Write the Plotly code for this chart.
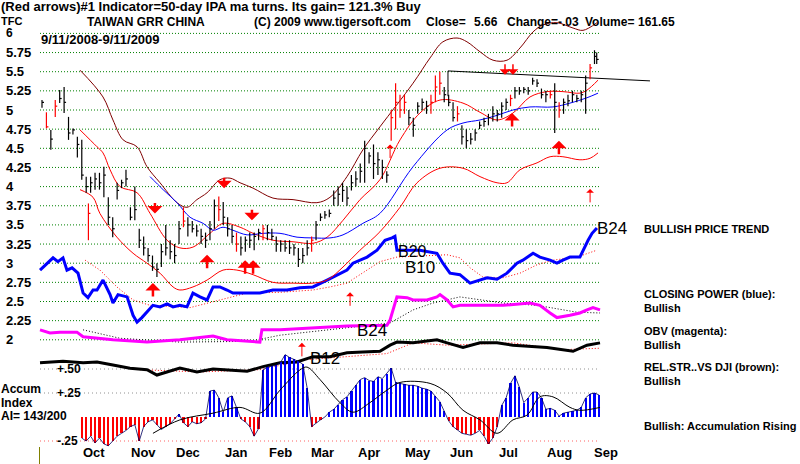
import plotly.graph_objects as go

# ---------------- data ----------------
# price bars (trading-day index, high, low, close)
bar_idx = [0, 2, 4, 6, 8, 10, 12, 14, 16, 18, 20, 21, 22, 24, 26, 28, 30, 32, 34, 36, 38, 40, 42, 44, 46, 48, 50,
           52, 54, 56, 58, 60, 62, 64, 66, 68, 70, 72, 74, 76, 78, 80, 82, 84, 86, 88, 90, 92, 94, 96, 98, 100,
           102, 104, 106, 108, 110, 112, 114, 116, 118, 120, 122, 124, 126, 128, 130, 132, 134, 136, 138, 140,
           142, 144, 146, 148, 150, 152, 154, 156, 158, 160, 162, 164, 166, 168, 170, 172, 174, 176, 178, 180,
           182, 184, 186, 188, 190, 192, 194, 196, 198, 200, 202, 204, 206, 208, 210, 212, 214, 216, 218, 220,
           222, 224, 226, 228, 230, 232, 234, 236, 238, 240, 242, 244, 246, 248, 250, 251]
bar_high = [5.13, 4.97, 4.74, 5.13, 5.26, 5.30, 4.91, 4.76, 4.65, 4.61, 4.13, 3.78, 4.13, 4.18, 4.18, 4.26, 3.86,
            3.60, 4.05, 4.09, 4.22, 3.73, 4.00, 3.45, 3.35, 3.20, 3.10, 3.00, 3.25, 3.50, 3.30, 3.25, 3.55, 3.73,
            3.60, 3.55, 3.50, 3.45, 3.40, 3.55, 3.83, 3.87, 3.80, 3.60, 3.50, 3.40, 3.35, 3.35, 3.40, 3.40, 3.45,
            3.50, 3.50, 3.45, 3.35, 3.30, 3.30, 3.30, 3.25, 3.20, 3.20, 3.30, 3.35, 3.55, 3.65, 3.68, 3.70, 3.95,
            4.00, 4.05, 4.00, 4.15, 4.20, 4.30, 4.60, 4.45, 4.55, 4.45, 4.35, 4.20, 5.00, 5.35, 5.20, 5.20, 5.00,
            4.90, 5.10, 5.15, 5.12, 5.20, 5.45, 5.50, 5.30, 5.20, 5.10, 5.05, 4.80, 4.75, 4.70, 4.75, 4.85, 4.90,
            4.95, 5.05, 5.00, 5.10, 5.15, 5.20, 5.30, 5.30, 5.30, 5.30, 5.42, 5.40, 5.28, 5.25, 5.25, 5.35, 5.10,
            5.15, 5.20, 5.25, 5.20, 5.25, 5.45, 5.60, 5.78, 5.75]
bar_low = [5.03, 4.76, 4.48, 4.91, 5.09, 4.96, 4.61, 4.68, 4.38, 4.09, 3.92, 3.30, 3.92, 3.96, 3.96, 3.86, 3.50,
           3.34, 3.83, 3.98, 4.00, 3.56, 3.56, 3.20, 3.10, 3.02, 2.90, 2.82, 2.95, 3.10, 3.05, 3.00, 3.25, 3.47,
           3.35, 3.40, 3.35, 3.25, 3.20, 3.30, 3.45, 3.55, 3.50, 3.35, 3.26, 3.15, 3.10, 3.15, 3.20, 3.17, 3.30,
           3.30, 3.30, 3.30, 3.15, 3.15, 3.15, 3.12, 3.10, 2.95, 3.00, 3.10, 3.15, 3.30, 3.55, 3.58, 3.60, 3.75,
           3.75, 3.80, 3.75, 3.95, 4.00, 4.05, 4.05, 4.30, 4.10, 4.15, 4.10, 4.05, 4.60, 4.75, 4.90, 4.95, 4.80,
           4.65, 4.95, 5.00, 4.95, 4.95, 5.10, 5.20, 5.10, 5.05, 4.85, 4.85, 4.55, 4.50, 4.55, 4.60, 4.75, 4.78,
           4.80, 4.85, 4.85, 4.90, 5.00, 5.05, 5.15, 5.20, 5.22, 5.20, 5.33, 5.30, 5.15, 5.10, 5.15, 4.70, 4.90,
           4.95, 5.05, 5.10, 5.10, 5.10, 4.95, 5.40, 5.60, 5.60]
bar_close = [5.10, 4.78, 4.62, 5.05, 5.15, 5.10, 4.70, 4.74, 4.55, 4.15, 4.00, 3.65, 4.05, 4.10, 4.05, 4.15, 3.60,
             3.45, 3.95, 4.05, 4.10, 3.60, 3.70, 3.30, 3.20, 3.10, 2.95, 2.92, 3.15, 3.20, 3.15, 3.10, 3.45, 3.55,
             3.50, 3.45, 3.42, 3.35, 3.30, 3.45, 3.75, 3.70, 3.60, 3.45, 3.35, 3.25, 3.20, 3.30, 3.30, 3.35, 3.40,
             3.45, 3.40, 3.35, 3.25, 3.25, 3.20, 3.20, 3.20, 3.05, 3.10, 3.20, 3.30, 3.50, 3.60, 3.63, 3.65, 3.85,
             3.90, 3.95, 3.85, 4.05, 4.10, 4.20, 4.50, 4.40, 4.30, 4.35, 4.25, 4.15, 4.90, 5.10, 5.00, 5.10, 4.90,
             4.80, 5.05, 5.10, 5.05, 5.10, 5.30, 5.35, 5.20, 5.10, 4.90, 4.95, 4.65, 4.60, 4.62, 4.70, 4.80, 4.85,
             4.90, 4.95, 4.95, 5.05, 5.10, 5.15, 5.25, 5.25, 5.27, 5.25, 5.38, 5.35, 5.20, 5.20, 5.20, 5.10, 5.00,
             5.10, 5.12, 5.20, 5.15, 5.20, 5.35, 5.55, 5.70, 5.66]
red_bar_idx = [2, 6, 21, 64, 80, 88, 100, 122, 158, 160, 162, 164, 176, 178, 180, 188, 212, 230, 234, 248]

# bands
upper_idx = [17.2, 27.6, 32.1, 36.7, 43.0, 47.5, 53.4, 61.1, 65.6, 70.1, 74.7, 80.5, 85.1, 89.6, 95.5, 104.5,
             113.6, 124.4, 130.3, 138.0, 145.2, 152.9, 167.9, 175.6, 181.4, 187.8, 192.3, 198.2, 204.1, 210.4,
             216.3, 222.2, 226.7, 233.0, 240.3, 244.8, 251.1]
upper_val = [5.52, 5.17, 4.87, 4.61, 4.52, 4.26, 4.05, 3.79, 3.73, 3.83, 3.92, 4.09, 4.11, 4.05, 3.98, 3.85,
             3.83, 3.79, 3.86, 4.13, 4.48, 4.78, 5.35, 5.68, 5.89, 5.94, 5.89, 5.76, 5.65, 5.65, 5.81, 6.02,
             6.11, 6.14, 6.07, 6.04, 6.14]
mid_idx = [17.2, 24.9, 27.6, 30.8, 35.3, 43.0, 48.9, 56.6, 62.4, 68.3, 76.0, 81.9, 89.6, 95.5, 104.5, 113.6,
           122.6, 129.0, 136.2, 143.9, 152.9, 162.0, 171.0, 180.1, 190.5, 198.2, 205.9, 213.1, 220.8, 228.5,
           235.7, 243.4, 246.6, 251.6]
mid_val = [4.74, 4.52, 4.44, 4.22, 4.00, 3.92, 3.65, 3.30, 3.20, 3.21, 3.39, 3.52, 3.47, 3.39, 3.30, 3.28,
           3.26, 3.34, 3.56, 3.83, 4.09, 4.61, 4.96, 5.13, 5.09, 4.97, 4.87, 4.96, 5.17, 5.24, 5.24, 5.22,
           5.26, 5.39]
ma_idx = [48.9, 54.8, 61.1, 67.0, 72.9, 77.4, 81.9, 86.4, 92.8, 100.0, 107.7, 115.4, 122.6, 130.3, 136.2,
          145.2, 152.9, 167.9, 183.3, 190.5, 198.2, 205.9, 213.1, 220.8, 231.2, 238.9, 246.6, 251.6]
ma_val = [4.13, 3.96, 3.79, 3.60, 3.52, 3.43, 3.47, 3.43, 3.37, 3.39, 3.39, 3.34, 3.33, 3.33, 3.37,
          3.52, 3.65, 4.26, 4.74, 4.83, 4.87, 4.93, 5.00, 5.04, 5.04, 5.09, 5.16, 5.22]
lower_idx = [17.2, 23.1, 26.2, 33.9, 41.2, 47.5, 53.4, 59.3, 62.4, 68.3, 74.7, 81.9, 88.2, 95.5, 104.5, 113.6,
             122.6, 129.0, 136.2, 143.9, 152.9, 162.0, 169.7, 180.1, 190.5, 198.2, 205.9, 210.4, 216.3, 224.0,
             229.9, 235.7, 243.4, 248.0, 251.6]
lower_val = [3.96, 3.86, 3.65, 3.34, 3.13, 3.00, 2.87, 2.69, 2.65, 2.69, 2.78, 2.91, 2.91, 2.85, 2.75, 2.74,
             2.74, 2.78, 2.95, 3.17, 3.41, 3.73, 4.05, 4.24, 4.24, 4.13, 4.05, 4.05, 4.22, 4.31, 4.39, 4.39,
             4.35, 4.37, 4.44]
resist_idx = [183.7, 183.7, 275.1]
resist_val = [5.18, 5.51, 5.38]

# closing power (blue) and its trend (red dotted)
cp_idx = [-0.9, 5.0, 7.2, 9.5, 11.3, 13.6, 16.3, 18.6, 20.8, 23.1, 24.9, 27.6, 30.8, 32.1, 34.4, 38.5, 41.2,
          43.0, 45.2, 47.5, 50.2, 53.4, 56.6, 59.3, 62.4, 65.6, 68.3, 71.5, 74.7, 77.4, 80.5, 83.7, 86.4, 92.8,
          98.6, 104.5, 110.9, 116.7, 122.6, 129.0, 133.5, 138.0, 140.7, 147.1, 151.6, 155.2, 158.4, 159.7,
          160.6, 171.0, 178.7, 181.4, 184.6, 189.1, 193.7, 201.4, 205.9, 210.4, 214.9, 217.6, 222.2, 225.3,
          229.9, 233.0, 235.7, 238.9, 243.4, 244.8, 247.1, 248.9, 251.1]
cp_val = [2.91, 3.07, 3.02, 3.07, 2.91, 2.94, 2.87, 2.61, 2.55, 2.65, 2.65, 2.78, 2.59, 2.48, 2.59, 2.56, 2.32,
          2.23, 2.29, 2.36, 2.45, 2.43, 2.47, 2.43, 2.45, 2.43, 2.61, 2.56, 2.52, 2.69, 2.69, 2.65, 2.61, 2.61,
          2.61, 2.65, 2.65, 2.68, 2.69, 2.78, 2.85, 2.91, 3.00, 3.08, 3.17, 3.30, 3.33, 3.35,
          3.17, 3.17, 3.13, 3.00, 2.87, 2.85, 2.74, 2.81, 2.79, 2.87, 3.00, 3.04, 3.13, 3.08,
          3.04, 3.00, 3.04, 3.08, 3.08, 3.17, 3.30, 3.39, 3.46]
cp_ma_idx = [19.5, 26.2, 33.9, 41.2, 48.9, 67.0, 80.5, 92.8, 107.7, 122.6, 130.3, 138.0, 152.9, 160.6, 183.3,
             189.1, 193.7, 199.5, 208.6, 216.3, 224.0, 231.2, 242.1, 251.1]
cp_ma_val = [3.04, 2.91, 2.69, 2.52, 2.45, 2.42, 2.52, 2.61, 2.62, 2.65, 2.69, 2.74, 3.02, 3.08, 3.11,
             3.07, 2.94, 2.82, 2.81, 2.87, 2.98, 3.04, 3.08, 3.17]

# OBV (magenta) and its trend (black dotted)
obv_idx = [-0.9, 3.6, 8.1, 15.8, 18.6, 32.1, 47.5, 62.4, 77.4, 83.7, 98.6, 99.5, 107.7, 122.6, 138.0, 156.1,
           157.5, 160.6, 165.2, 167.9, 174.2, 178.7, 180.1, 183.3, 186.0, 189.1, 193.7, 208.6, 220.8, 225.3,
           229.9, 233.0, 238.9, 243.4, 246.6, 249.3, 252.5]
obv_val = [2.13, 2.09, 2.10, 2.10, 2.04, 2.00, 1.97, 2.00, 2.05, 2.00, 1.97, 2.13, 2.13, 2.15, 2.18, 2.19,
           2.26, 2.56, 2.55, 2.52, 2.52, 2.56, 2.59, 2.52, 2.43, 2.45, 2.45, 2.45, 2.48, 2.45,
           2.35, 2.29, 2.32, 2.35, 2.39, 2.42, 2.39]
obv_ma_idx = [18.6, 35.3, 62.4, 94.1, 107.7, 157.5, 167.9, 176.9, 189.1, 208.6, 224.0, 233.0, 242.1, 252.5]
obv_ma_val = [2.13, 2.02, 1.97, 1.98, 2.06, 2.22, 2.39, 2.48, 2.56, 2.48, 2.45, 2.41, 2.36, 2.35]

# relative strength vs DJI (black) and its trend (red dotted)
rs_idx = [-0.9, 5.0, 9.5, 18.6, 24.9, 32.1, 39.8, 47.5, 52.0, 62.4, 70.1, 77.4, 92.8, 100.0, 107.7, 115.4,
          122.6, 130.3, 138.0, 145.2, 152.9, 157.5, 160.6, 167.9, 178.7, 183.3, 190.5, 198.2, 205.9, 213.1,
          228.5, 240.3, 246.6, 252.5]
rs_val = [1.70, 1.71, 1.72, 1.70, 1.71, 1.67, 1.63, 1.61, 1.54, 1.63, 1.58, 1.62, 1.59, 1.65, 1.70, 1.71,
          1.78, 1.78, 1.83, 1.84, 1.85, 1.93, 1.97, 1.96, 2.00, 1.96, 1.90, 1.96, 1.96, 1.93,
          1.90, 1.85, 1.93, 1.96]
rs_ma_idx = [44.3, 71.5, 98.6, 119.5, 156.1, 167.9, 183.3, 213.1, 234.4, 252.5]
rs_ma_val = [1.61, 1.58, 1.61, 1.74, 1.82, 1.96, 1.93, 1.96, 1.87, 1.89]

# accumulation index
acc_idx = list(range(18, 254, 2))
acc_val = [-0.22, -0.25, -0.20, -0.27, -0.22, -0.28, -0.30, -0.25, -0.20, -0.17, -0.14, -0.10, -0.08, -0.25,
           -0.10, -0.05, -0.03, -0.08, -0.13, -0.10, -0.07, -0.02, 0.03, -0.06, -0.10, -0.05, -0.07, -0.06,
           -0.02, 0.27, 0.28, 0.20, 0.05, 0.20, 0.22, 0.10, -0.02, -0.05, -0.10, -0.20, -0.12, 0.49, 0.52,
           0.53, 0.54, 0.57, 0.65, 0.62, 0.60, 0.58, 0.55, 0.30, -0.10, -0.06, -0.03, 0.00, 0.05, 0.08, 0.13,
           0.18, 0.21, 0.27, 0.33, 0.39, 0.41, 0.38, 0.37, 0.42, 0.40, 0.45, 0.51, 0.36, 0.35, 0.34, 0.33,
           0.33, 0.32, 0.30, 0.29, 0.27, 0.22, 0.16, 0.06, -0.04, -0.10, -0.14, -0.17, -0.18, -0.19, -0.17,
           -0.14, -0.20, -0.28, -0.22, -0.10, 0.12, 0.20, 0.35, 0.43, 0.31, 0.15, 0.20, 0.26, 0.26, 0.20,
           0.08, 0.09, 0.07, 0.01, 0.04, 0.05, 0.06, 0.07, 0.10, 0.20, 0.24, 0.25, 0.23]
acc_ma_idx = [50.2, 62.4, 77.4, 89.6, 98.6, 107.7, 116.7, 119.9, 125.8, 134.8, 140.7, 148.4, 156.1, 162.0,
              175.6, 183.3, 190.5, 198.2, 205.9, 213.1, 219.5, 225.3, 231.2, 238.9, 243.4, 252.5]
acc_ma_val = [-0.17, -0.03, 0.04, 0.10, 0.04, 0.28, 0.49, 0.52, 0.39, 0.15, 0.05, 0.15, 0.28, 0.36,
              0.35, 0.25, 0.07, -0.03, -0.17, -0.03, 0.02, 0.21, 0.21, 0.10, 0.07, 0.10]

# signal arrows (index, head price, thick?)
up_idx = [50.2, 74.7, 91.9, 95.5, 117.6, 139.4, 157.5, 212.7, 233.9, 248.0]
up_val = [2.74, 3.11, 3.04, 3.04, 1.96, 2.62, 4.55, 4.96, 4.60, 3.97]
up_thick = [1, 1, 1, 1, 0, 0, 0, 1, 1, 0]
dn_idx = [51.1, 82.4, 95.0, 209.5, 213.1]
dn_val = [3.65, 3.98, 3.56, 5.46, 5.46]
dn_thick = [1, 1, 1, 0, 0]

# axis labels
price_ticks = [6, 5.75, 5.5, 5.25, 5, 4.75, 4.5, 4.25, 4, 3.75, 3.5, 3.25, 3, 2.75, 2.5, 2.25, 2]
price_tick_text = ["6", "5.75", "5.5", "5.25", "5", "4.75", "4.5", "4.25", "4", "3.75", "3.5", "3.25",
                   "3", "2.75", "2.5", "2.25", "2"]
acc_ticks = [0.5, 0.25, -0.25]
acc_tick_text = ["+.50", "+.25", "-.25"]
month_names = ["Oct", "Nov", "Dec", "Jan", "Feb", "Mar", "Apr", "May", "Jun", "Jul", "Aug", "Sep"]
month_pos = [23.5, 45.7, 66, 87.8, 108, 127, 148, 170, 189.6, 210.9, 234, 255]

# ---------------- layout geometry ----------------
W, H = 800, 464
X0_PX, PX_DAY = 42.0, 2.21            # pixel of day 0, pixels per trading day
PY6, PX_UNIT = 33.4, 76.6             # pixel of price 6, pixels per price unit
ACC0, ACC_UNIT = 417.0, 96.0          # pixel of accum 0, pixels per unit
xr = [-X0_PX / PX_DAY, (W - X0_PX) / PX_DAY]
yr = [6 - (H - PY6) / PX_UNIT, 6 + PY6 / PX_UNIT]
y2r = [-(H - ACC0) / ACC_UNIT, ACC0 / ACC_UNIT]
GX0, GX1 = -0.9, 252.5                # grid extent (days)

FONT = "Liberation Sans, Arial, sans-serif"


def px(xp):
    return xp / W


def py(yp):
    return 1 - yp / H


fig = go.Figure()

# accumulation bars
fig.add_trace(go.Bar(x=acc_idx, y=acc_val, yaxis="y2", width=1.0,
                     marker=dict(color=["#0000ff" if v >= 0 else "#ff0000" for v in acc_val], line=dict(width=0)),
                     hoverinfo="skip"))
fig.add_trace(go.Scatter(x=acc_idx, y=acc_val, yaxis="y2", mode="lines",
                         line=dict(color="#000060", width=0.8), hoverinfo="skip"))
fig.add_trace(go.Scatter(x=acc_ma_idx, y=acc_ma_val, yaxis="y2", mode="lines",
                         line=dict(color="#000000", width=1, shape="spline"), hoverinfo="skip"))

# indicator lines
fig.add_trace(go.Scatter(x=rs_ma_idx, y=rs_ma_val, mode="lines", line=dict(color="#ff0000", width=1, dash="1px,2px")))
fig.add_trace(go.Scatter(x=rs_idx, y=rs_val, mode="lines", line=dict(color="#000000", width=3)))
fig.add_trace(go.Scatter(x=obv_ma_idx, y=obv_ma_val, mode="lines", line=dict(color="#000000", width=1, dash="1px,2px")))
fig.add_trace(go.Scatter(x=obv_idx, y=obv_val, mode="lines", line=dict(color="#ff00ff", width=3)))
fig.add_trace(go.Scatter(x=cp_ma_idx, y=cp_ma_val, mode="lines", line=dict(color="#ff0000", width=1, dash="1px,2px")))
fig.add_trace(go.Scatter(x=cp_idx, y=cp_val, mode="lines", line=dict(color="#0000ff", width=3)))

# bands
fig.add_trace(go.Scatter(x=upper_idx, y=upper_val, mode="lines", line=dict(color="#800000", width=1, shape="spline")))
fig.add_trace(go.Scatter(x=mid_idx, y=mid_val, mode="lines", line=dict(color="#ff0000", width=1, shape="spline")))
fig.add_trace(go.Scatter(x=lower_idx, y=lower_val, mode="lines", line=dict(color="#ff0000", width=1, shape="spline")))
fig.add_trace(go.Scatter(x=ma_idx, y=ma_val, mode="lines", line=dict(color="#0000ff", width=1, shape="spline")))
fig.add_trace(go.Scatter(x=resist_idx, y=resist_val, mode="lines", line=dict(color="#000000", width=1)))

# price bars (high-low stroke + close tick to the right)
for want_red in (False, True):
    xs, ys = [], []
    for i, hi, lo, cl in zip(bar_idx, bar_high, bar_low, bar_close):
        if (i in red_bar_idx) != want_red:
            continue
        xs += [i, i, None, i, i + 0.9, None]
        ys += [lo, hi, None, cl, cl, None]
    fig.add_trace(go.Scatter(x=xs, y=ys, mode="lines", connectgaps=False,
                             line=dict(color="#ff0000" if want_red else "#000000", width=1.2)))

shapes = []
for v in price_ticks:
    shapes.append(dict(type="line", xref="x", yref="y", x0=GX0, x1=GX1, y0=v, y1=v, layer="below",
                       line=dict(color="#008000", width=1, dash="1px,2px")))
for v in acc_ticks:
    shapes.append(dict(type="line", xref="x", yref="y2", x0=GX0, x1=GX1, y0=v, y1=v, layer="below",
                       line=dict(color="#ff6060" if v < 0 else "#909090", width=1, dash="1px,3px")))
shapes.append(dict(type="line", xref="paper", yref="paper", x0=px(39.5), x1=px(39.5), y0=py(447), y1=py(464),
                   line=dict(color="#808000", width=1)))

ann = []


def text(t, xp, yp, size=11, bold=True, anchor="left"):
    ann.append(dict(text=("<b>%s</b>" % t) if bold else t, x=px(xp), y=py(yp), xref="paper", yref="paper",
                    xanchor=anchor, yanchor="middle", showarrow=False, borderpad=0,
                    font=dict(family=FONT, size=size, color="#000000")))


for v, t in zip(price_ticks, price_tick_text):
    ann.append(dict(text="<b>%s</b>" % t, x=px(5), y=v, xref="paper", yref="y", xanchor="left",
                    yanchor="middle", showarrow=False, borderpad=0,
                    font=dict(family=FONT, size=13 if v != 6 else 12, color="#000000")))
for v, t in zip(acc_ticks, acc_tick_text):
    ann.append(dict(text="<b>%s</b>" % t, x=px(56), y=v, xref="paper", yref="y2", xanchor="left",
                    yanchor="middle", showarrow=False, borderpad=0,
                    font=dict(family=FONT, size=12, color="#000000")))
for m, p in zip(month_names, month_pos):
    ann.append(dict(text="<b>%s</b>" % m, x=p, y=py(452), xref="x", yref="paper", xanchor="center",
                    yanchor="middle", showarrow=False, borderpad=0,
                    font=dict(family=FONT, size=13, color="#000000")))

for i, v, t in zip(up_idx, up_val, up_thick):
    ann.append(dict(x=i, y=v, xref="x", yref="y", ax=0, ay=15, showarrow=True, text="",
                    arrowhead=1, arrowsize=1.0 if t else 1.3, arrowwidth=2.5 if t else 1,
                    arrowcolor="#ff0000"))
for i, v, t in zip(dn_idx, dn_val, dn_thick):
    ann.append(dict(x=i, y=v, xref="x", yref="y", ax=0, ay=-12, showarrow=True, text="",
                    arrowhead=1, arrowsize=1.0 if t else 1.2, arrowwidth=2.5 if t else 1.5,
                    arrowcolor="#ff0000"))

text("(Red arrows)#1 Indicator=50-day IPA ma turns. Its gain= 121.3% Buy", 0, 7, 13)
text("TFC", 0, 21, 11)
text("TAIWAN GRR CHINA", 86, 22, 12)
text("(C) 2009 www.tigersoft.com", 253, 22, 12)
text("Close=", 425, 22, 12)
text("5.66", 473, 22, 12)
text("Change=-.03", 506, 22, 12)
text("Volume=", 584, 22, 12)
text("161.65", 637, 22, 12)
text("9/11/2008-9/11/2009", 40, 39, 13)

text("B24", 596, 228, 17, bold=False)
text("B20", 397, 251, 16, bold=False)
text("B10", 404, 267, 17, bold=False)
text("B24", 356, 330, 17, bold=False)
text("B12", 309, 358, 17, bold=False)

text("BULLISH PRICE TREND", 643, 229, 11)
text("CLOSING POWER (blue):", 643, 294, 11)
text("Bullish", 643, 308, 11)
text("OBV (magenta):", 643, 331, 11)
text("Bullish", 643, 345, 11)
text("REL.STR..VS DJI (brown):", 643, 367, 11)
text("Bullish", 643, 381, 11)
text("Bullish: Accumulation Rising", 643, 426, 11)

text("Accum", 0, 389, 12)
text("Index", 0, 403, 12)
text("AI= 143/200", 0, 416, 12)

fig.update_layout(
    width=W, height=H, margin=dict(l=0, r=0, t=0, b=0),
    paper_bgcolor="#ffffff", plot_bgcolor="#ffffff", showlegend=False,
    bargap=0,
    xaxis=dict(range=xr, visible=False, fixedrange=True),
    yaxis=dict(range=yr, visible=False, fixedrange=True),
    yaxis2=dict(range=y2r, visible=False, overlaying="y", fixedrange=True),
    shapes=shapes, annotations=ann,
)

fig.write_html("out.html")
